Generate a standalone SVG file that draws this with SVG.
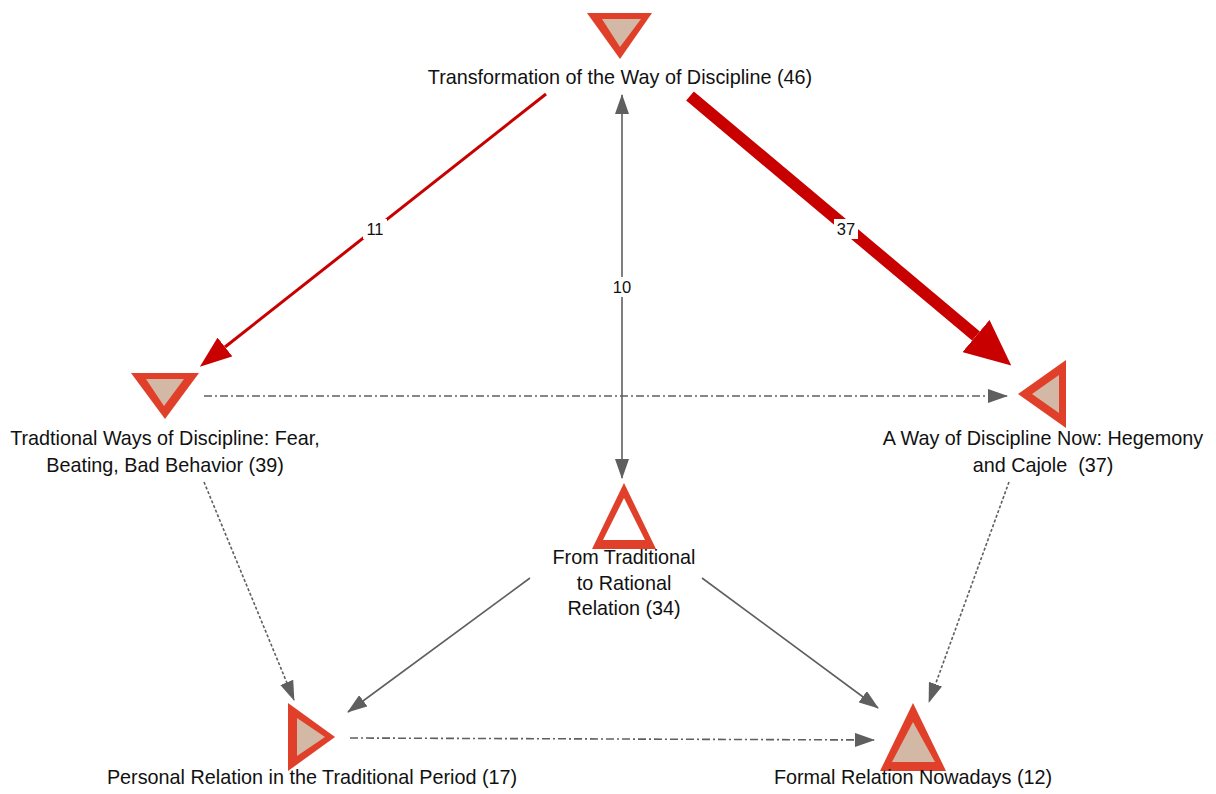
<svg xmlns="http://www.w3.org/2000/svg" width="1216" height="794" viewBox="0 0 1216 794">
  <style>
    .lbl { font-family: "Liberation Sans", Arial, sans-serif; font-size: 19.8px; fill: #111; text-anchor: middle; }
    .elbl { font-family: "Liberation Sans", Arial, sans-serif; font-size: 16.5px; fill: #111; text-anchor: middle; }
    .outer { fill: #e0402a; }
    .inner { fill: #d3b8a6; }
    .hollow { fill: #ffffff; }
    .gray { stroke: #5f5f5f; stroke-width: 1.6; fill: none; }
    .dashdot { stroke-dasharray: 8 3 2 3; }
    .dotted { stroke-dasharray: 3 2; }
    .red { stroke: #c80000; fill: none; }
  </style>
  <defs>
    <marker id="arrGray" viewBox="0 0 20 14" refX="19" refY="7" markerWidth="20" markerHeight="14" markerUnits="userSpaceOnUse" orient="auto-start-reverse">
      <path d="M0,0 L20,7 L0,14 z" fill="#5f5f5f"/>
    </marker>
    <!-- red heads start at the line end so the stroke never pokes past the tip -->
    <marker id="arrRed" viewBox="0 0 32 24" refX="0" refY="12" markerWidth="32" markerHeight="24" markerUnits="userSpaceOnUse" orient="auto">
      <path d="M0,0 L32,12 L0,24 z" fill="#c80000"/>
    </marker>
    <marker id="arrRedBig" viewBox="0 0 46 42" refX="0" refY="21" markerWidth="46" markerHeight="42" markerUnits="userSpaceOnUse" orient="auto">
      <path d="M0,0 L46,21 L0,42 z" fill="#c80000"/>
    </marker>
  </defs>

  <!-- connectors -->
  <g id="connectors">
    <line class="red" stroke-width="3" x1="546" y1="94" x2="225" y2="347" marker-end="url(#arrRed)"/>
    <line class="red" stroke-width="12" x1="690" y1="96" x2="976" y2="336" marker-end="url(#arrRedBig)"/>
    <line class="gray" x1="622" y1="95" x2="622" y2="478" marker-start="url(#arrGray)" marker-end="url(#arrGray)"/>
    <line class="gray dashdot" x1="204" y1="396" x2="1007" y2="396" marker-end="url(#arrGray)"/>
    <line class="gray dotted" x1="204" y1="482" x2="294" y2="700" marker-end="url(#arrGray)"/>
    <line class="gray dotted" x1="1009" y1="482" x2="929" y2="702" marker-end="url(#arrGray)"/>
    <line class="gray" x1="530" y1="578" x2="348" y2="712" marker-end="url(#arrGray)"/>
    <line class="gray" x1="702" y1="578" x2="878" y2="708" marker-end="url(#arrGray)"/>
    <line class="gray dashdot" x1="350" y1="738" x2="874" y2="740" marker-end="url(#arrGray)"/>

    <rect x="363" y="219" width="24" height="20" fill="#fff"/>
    <text class="elbl" x="375" y="235">11</text>
    <rect x="834" y="219" width="24" height="20" fill="#fff"/>
    <text class="elbl" x="846" y="235">37</text>
    <rect x="610" y="277" width="24" height="20" fill="#fff"/>
    <text class="elbl" x="622" y="293">10</text>
  </g>

  <!-- nodes -->
  <g id="transformation">
    <polygon class="outer" points="587,13 652,13 620,59"/>
    <polygon class="inner" points="602,19 641,19 620,47"/>
    <text class="lbl" x="620" y="84">Transformation of the Way of Discipline (46)</text>
  </g>

  <g id="traditional">
    <polygon class="outer" points="131,373 199,373 165,419"/>
    <polygon class="inner" points="146,379 184,379 164,406"/>
    <text class="lbl" x="165" y="445">Tradtional Ways of Discipline: Fear,</text>
    <text class="lbl" x="165" y="472">Beating, Bad Behavior (39)</text>
  </g>

  <g id="way-now">
    <polygon class="outer" points="1018,394 1066,360 1066,428"/>
    <polygon class="inner" points="1032,394 1059,375 1059,413"/>
    <text class="lbl" x="1043" y="445">A Way of Discipline Now: Hegemony</text>
    <text class="lbl" x="1043" y="472" xml:space="preserve">and Cajole  (37)</text>
  </g>

  <g id="traditional-to-rational">
    <polygon class="outer" points="624,483 656,549 592,549"/>
    <polygon class="hollow" points="624,498 645,540 603,540"/>
    <text class="lbl" x="624" y="564">From Traditional</text>
    <text class="lbl" x="624" y="590">to Rational</text>
    <text class="lbl" x="624" y="615">Relation (34)</text>
  </g>

  <g id="personal-relation">
    <polygon class="outer" points="288,703 335,737 288,771"/>
    <polygon class="inner" points="297,718 325,737 297,756"/>
    <text class="lbl" x="312" y="784">Personal Relation in the Traditional Period (17)</text>
  </g>

  <g id="formal-relation">
    <polygon class="outer" points="913,703 946,771 880,771"/>
    <polygon class="inner" points="913,722 935,762 892,762"/>
    <text class="lbl" x="913" y="784">Formal Relation Nowadays (12)</text>
  </g>
</svg>
